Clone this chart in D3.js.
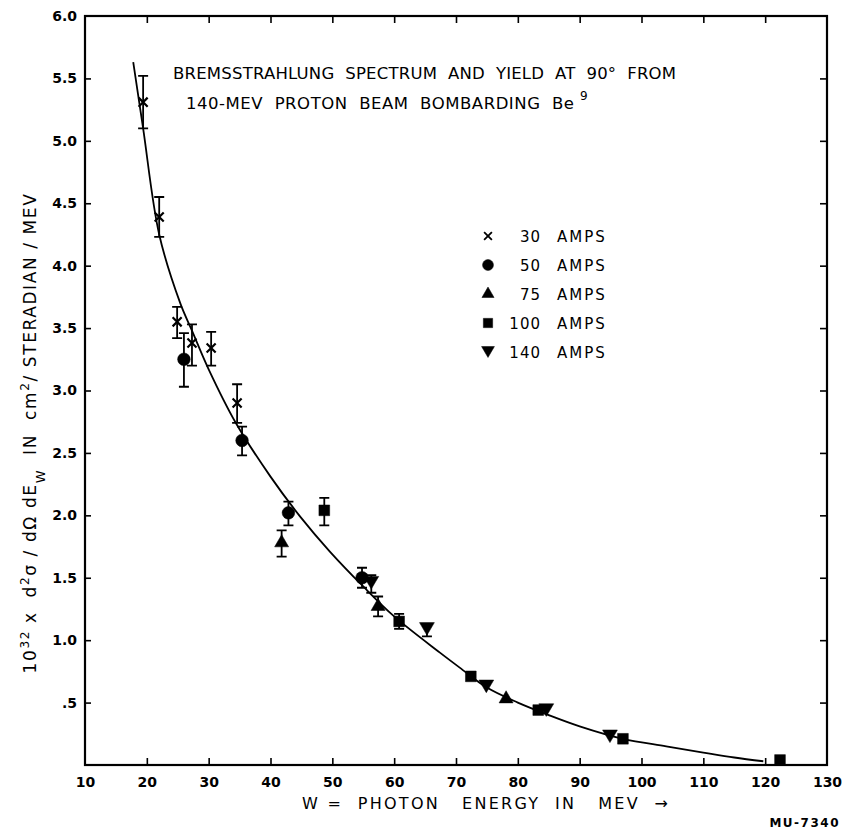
<!DOCTYPE html>
<html>
<head>
<meta charset="utf-8">
<script src="https://d3js.org/d3.v7.min.js"></script>
<style>
body { margin: 0; background: #fff; }
svg { display: block; font-family: 'DejaVu Sans', sans-serif; }
svg text { white-space: pre; }
</style>
</head>
<body>
<div id="chart"></div>
<script>
// data: [W (MeV), value, error top, error bottom]
var amps30 = [[19.4, 5.31, 5.52, 5.10], [22.0, 4.39, 4.55, 4.23], [24.9, 3.55, 3.67, 3.42],
              [27.3, 3.38, 3.53, 3.20], [30.4, 3.34, 3.47, 3.20], [34.6, 2.90, 3.05, 2.74]];
var amps50 = [[26.0, 3.25, 3.46, 3.03], [35.4, 2.60, 2.71, 2.48], [42.9, 2.02, 2.11, 1.92],
              [54.8, 1.50, 1.58, 1.42]];
var amps75 = [[41.8, 1.78, 1.88, 1.67], [57.4, 1.27, 1.35, 1.19], [78.1, 0.53, null, null]];
var amps100 = [[48.7, 2.04, 2.14, 1.92], [60.8, 1.15, 1.21, 1.09], [72.4, 0.71, null, null],
               [83.3, 0.44, null, null], [97.0, 0.21, null, null], [122.4, 0.04, null, null]];
var amps140 = [[56.3, 1.46, 1.52, 1.38], [65.3, 1.09, 1.13, 1.03], [74.9, 0.63, null, null],
               [84.6, 0.44, null, null], [94.9, 0.23, null, null]];

// hand-drawn fitted curve
var fitCurve = [[17.8, 5.63], [19.4, 5.10], [22.0, 4.25], [25.4, 3.70], [27.3, 3.48], [30.0, 3.17],
                [34.4, 2.74], [40.0, 2.31], [44.8, 1.99], [49.6, 1.71], [55.0, 1.43], [60.0, 1.19],
                [67.4, 0.90], [70.6, 0.78], [75.0, 0.62], [80.0, 0.50], [85.0, 0.40], [90.0, 0.31],
                [97.0, 0.21], [104.0, 0.15], [110.0, 0.10], [115.0, 0.06], [119.7, 0.03]];

var xTicks = [10, 20, 30, 40, 50, 60, 70, 80, 90, 100, 110, 120, 130];
var yTicks = [0.5, 1.0, 1.5, 2.0, 2.5, 3.0, 3.5, 4.0, 4.5, 5.0, 5.5, 6.0];
var legendLabels = [["30", "AMPS"], ["50", "AMPS"], ["75", "AMPS"], ["100", "AMPS"], ["140", "AMPS"]];
var titleLines = ["BREMSSTRAHLUNG  SPECTRUM  AND  YIELD  AT  90°  FROM", "140-MEV  PROTON  BEAM  BOMBARDING  Be"];

var width = 848, height = 832;
var plotL = 85, plotR = 827, plotT = 16, plotB = 765;

var svg = d3.select("#chart").append("svg")
  .attr("width", width)
  .attr("height", height);

var x = d3.scaleLinear().domain([10, 130]).range([plotL, plotR]);
var y = d3.scaleLinear().domain([0, 6]).range([plotB, plotT]);

// frame
svg.append("rect")
  .attr("x", plotL).attr("y", plotT)
  .attr("width", plotR - plotL).attr("height", plotB - plotT)
  .attr("fill", "none").attr("stroke", "#000").attr("stroke-width", 2.2);

// axes with inward ticks
var fmtY = function(d) { return d === 0.5 ? ".5" : d.toFixed(1); };
var gx = svg.append("g").attr("transform", "translate(0," + plotB + ")")
  .call(d3.axisBottom(x).tickValues(xTicks).tickSizeInner(-7).tickSizeOuter(0).tickPadding(12));
var gy = svg.append("g").attr("transform", "translate(" + plotL + ",0)")
  .call(d3.axisLeft(y).tickValues(yTicks).tickFormat(fmtY).tickSizeInner(-6).tickSizeOuter(0).tickPadding(8));
var gt = svg.append("g").attr("transform", "translate(0," + plotT + ")")
  .call(d3.axisTop(x).tickValues(xTicks.slice(1, -1)).tickSizeInner(-7).tickSizeOuter(0).tickFormat(""));
var gr = svg.append("g").attr("transform", "translate(" + plotR + ",0)")
  .call(d3.axisRight(y).tickValues(yTicks.slice(0, -1)).tickSizeInner(-7).tickSizeOuter(0).tickFormat(""));

[gx, gy, gt, gr].forEach(function(g) {
  g.select(".domain").remove();
  g.selectAll("line").attr("stroke-width", 1.6);
  g.selectAll("text").attr("font-size", 14).attr("font-weight", "bold").attr("fill", "#000")
    .attr("font-family", "'DejaVu Sans', sans-serif");
});
gx.selectAll("line").filter(function(d) { return d === 10 || d === 130; }).remove();
gy.selectAll("line").filter(function(d) { return d === 6; }).remove();

// fitted curve
var line = d3.line()
  .x(function(d) { return x(d[0]); })
  .y(function(d) { return y(d[1]); })
  .curve(d3.curveCatmullRom.alpha(0.5));
svg.append("path").datum(fitCurve)
  .attr("d", line).attr("fill", "none").attr("stroke", "#000").attr("stroke-width", 1.8);

// symbols
var downTri = {
  draw: function(ctx, size) {
    var s = Math.sqrt(size / 0.43) / 2;
    ctx.moveTo(-s, -s * 0.85);
    ctx.lineTo(s, -s * 0.85);
    ctx.lineTo(0, s * 0.85);
    ctx.closePath();
  }
};
var shapes = [
  { data: amps30, type: d3.symbolTimes, size: 55, stroke: true },
  { data: amps50, type: d3.symbolCircle, size: 125 },
  { data: amps75, type: d3.symbolTriangle, size: 85 },
  { data: amps100, type: d3.symbolSquare, size: 115 },
  { data: amps140, type: downTri, size: 95 }
];

shapes.forEach(function(s) {
  var g = svg.append("g");
  var withErr = s.data.filter(function(d) { return d[2] !== null; });
  g.selectAll(".err").data(withErr).enter().append("path")
    .attr("d", function(d) {
      var cx = x(d[0]), t = y(d[2]), b = y(d[3]);
      return "M" + cx + "," + t + "V" + b +
             "M" + (cx - 5) + "," + t + "H" + (cx + 5) +
             "M" + (cx - 5) + "," + b + "H" + (cx + 5);
    })
    .attr("fill", "none").attr("stroke", "#000").attr("stroke-width", 1.8);
  g.selectAll(".pt").data(s.data).enter().append("path")
    .attr("transform", function(d) { return "translate(" + x(d[0]) + "," + y(d[1]) + ")"; })
    .attr("d", d3.symbol().type(s.type).size(s.size))
    .attr("fill", s.stroke ? "none" : "#000")
    .attr("stroke", "#000")
    .attr("stroke-width", s.stroke ? 2.2 : 0.5);
});

// legend
var legend = svg.append("g");
legendLabels.forEach(function(l, i) {
  var ly = 236 + i * 29;
  legend.append("path")
    .attr("transform", "translate(488," + ly + ")")
    .attr("d", d3.symbol().type(shapes[i].type).size(shapes[i].size * 0.75))
    .attr("fill", shapes[i].stroke ? "none" : "#000")
    .attr("stroke", "#000")
    .attr("stroke-width", shapes[i].stroke ? 1.8 : 0.5);
  legend.append("text").attr("x", 541).attr("y", ly + 6)
    .attr("text-anchor", "end").attr("font-size", 15).attr("letter-spacing", 1)
    .text(l[0]);
  legend.append("text").attr("x", 557).attr("y", ly + 6)
    .attr("font-size", 15).attr("letter-spacing", 2)
    .text(l[1]);
});

// title
svg.append("text").attr("x", 173).attr("y", 79)
  .attr("font-size", 16.5)
  .attr("textLength", 503).attr("lengthAdjust", "spacing")
  .text(titleLines[0]);
svg.append("text").attr("x", 186).attr("y", 109)
  .attr("font-size", 16.5)
  .attr("textLength", 388).attr("lengthAdjust", "spacing")
  .text(titleLines[1]);
svg.append("text").attr("x", 580).attr("y", 100)
  .attr("font-size", 12).text("9");

// x axis label
svg.append("text").attr("x", 302).attr("y", 809)
  .attr("font-size", 16)
  .attr("textLength", 366).attr("lengthAdjust", "spacing")
  .text("W =  PHOTON   ENERGY  IN   MEV  →");
svg.append("text").attr("x", 840).attr("y", 827).attr("text-anchor", "end")
  .attr("font-size", 12).attr("font-weight", "bold").attr("letter-spacing", 1.5)
  .text("MU-7340");

// y axis label
var yl = svg.append("text")
  .attr("transform", "translate(36,433) rotate(-90)")
  .attr("text-anchor", "middle")
  .attr("font-size", 17).attr("letter-spacing", 1.6);
yl.append("tspan").text("10");
yl.append("tspan").attr("dy", -7).attr("font-size", 12).text("32");
yl.append("tspan").attr("dy", 7).text(" x  d");
yl.append("tspan").attr("dy", -7).attr("font-size", 12).text("2");
yl.append("tspan").attr("dy", 7).text("σ / dΩ dE");
yl.append("tspan").attr("dy", 9).attr("font-size", 13).text("W");
yl.append("tspan").attr("dy", -9).text("  IN  cm");
yl.append("tspan").attr("dy", -7).attr("font-size", 12).text("2");
yl.append("tspan").attr("dy", 7).text("/ STERADIAN / MEV");
</script>
</body>
</html>
